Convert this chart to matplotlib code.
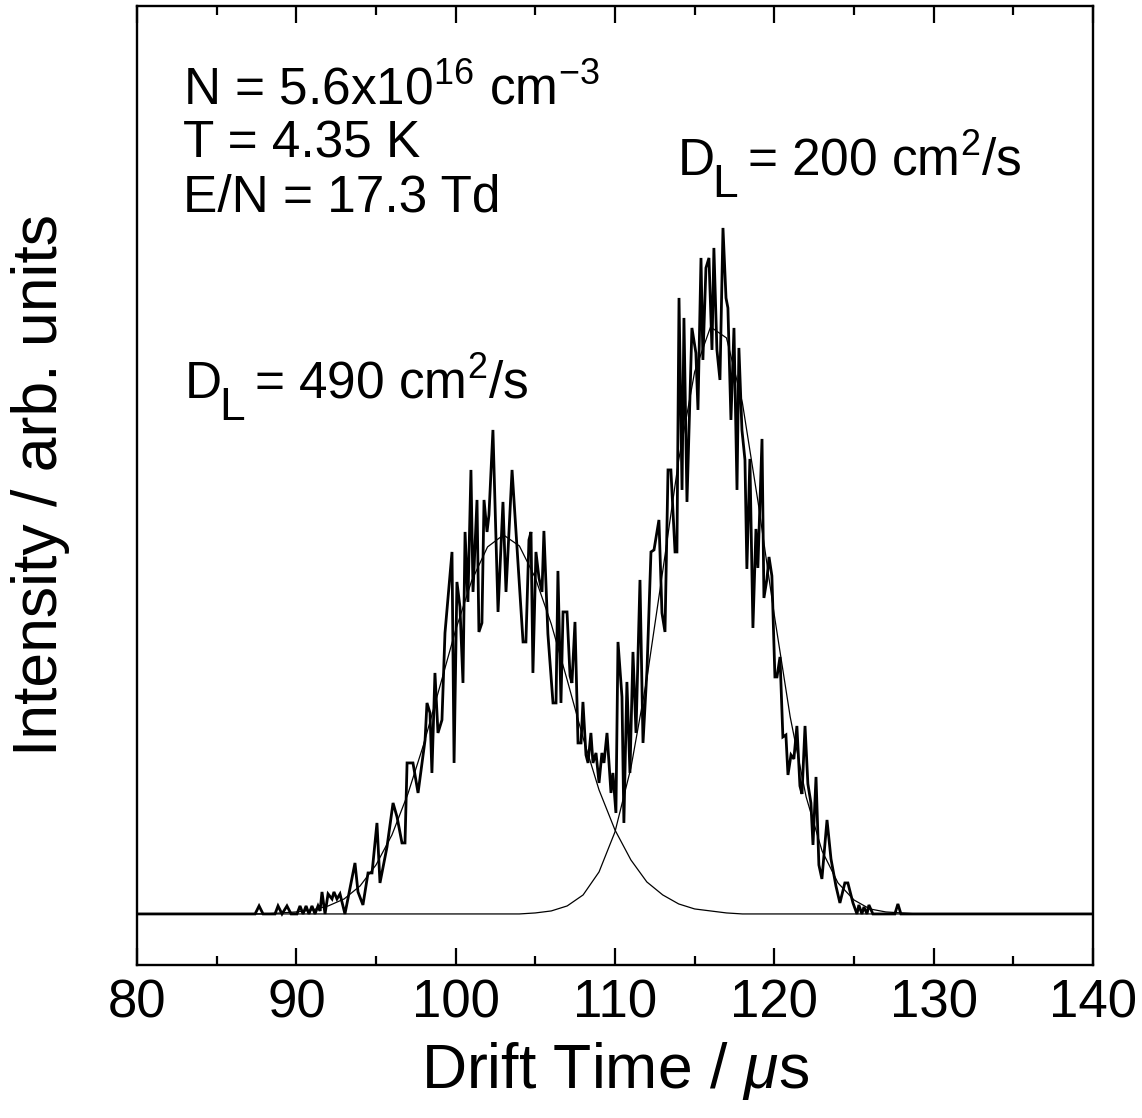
import matplotlib
matplotlib.use("Agg")
import matplotlib.pyplot as plt
from matplotlib.ticker import MultipleLocator

plt.rcParams["font.family"] = ["Liberation Sans", "DejaVu Sans"]
plt.rcParams["mathtext.fontset"] = "custom"
plt.rcParams["mathtext.rm"] = "Liberation Sans"
plt.rcParams["mathtext.it"] = "Liberation Sans:italic"
plt.rcParams["mathtext.bf"] = "Liberation Sans:bold"

# measured arrival-time spectrum (drift time in us, intensity in arb. units)
drift_time = [
    80.00, 87.41, 87.66, 87.91, 88.66, 88.85, 89.10, 89.41, 89.67, 90.04,
    90.23, 90.42, 90.61, 90.79, 90.98, 91.17, 91.36, 91.49, 91.61, 91.80,
    91.99, 92.24, 92.36, 92.55, 92.74, 93.05, 93.68, 93.87, 94.18, 94.50,
    94.75, 95.06, 95.25, 95.69, 96.07, 96.32, 96.63, 96.82, 96.95, 97.32,
    97.64, 98.08, 98.20, 98.39, 98.51, 98.70, 98.89, 99.14, 99.33, 99.77,
    99.90, 100.08, 100.27, 100.46, 100.59, 100.77, 100.96, 101.09, 101.34, 101.46,
    101.65, 101.78, 101.97, 102.09, 102.34, 102.66, 102.97, 103.16, 103.54, 103.85,
    104.23, 104.41, 104.60, 104.73, 104.85, 105.04, 105.23, 105.42, 105.54, 105.79,
    106.11, 106.30, 106.42, 106.61, 106.74, 106.99, 107.18, 107.30, 107.49, 107.68,
    107.87, 107.99, 108.18, 108.31, 108.49, 108.62, 108.81, 109.00, 109.18, 109.31,
    109.50, 109.75, 109.87, 110.06, 110.19, 110.44, 110.56, 110.75, 110.94, 111.13,
    111.32, 111.57, 111.76, 112.01, 112.26, 112.45, 112.76, 112.95, 113.14, 113.33,
    113.51, 113.77, 113.89, 114.02, 114.21, 114.33, 114.52, 114.83, 115.08, 115.21,
    115.40, 115.52, 115.71, 115.90, 116.09, 116.21, 116.40, 116.59, 116.78, 116.97,
    117.09, 117.28, 117.47, 117.66, 117.78, 117.97, 118.16, 118.28, 118.47, 118.66,
    118.85, 118.97, 119.23, 119.35, 119.54, 119.67, 119.85, 120.04, 120.17, 120.36,
    120.54, 120.73, 120.86, 121.05, 121.23, 121.42, 121.61, 121.74, 121.93, 122.11,
    122.30, 122.43, 122.62, 122.80, 122.99, 123.31, 123.56, 123.87, 124.12, 124.43,
    124.62, 124.94, 125.19, 125.31, 125.50, 125.63, 125.82, 125.94, 126.19, 127.57,
    127.76, 127.95, 140.00,
]
intensity = [
    0, 0, 8, 0, 0, 8, 0, 8, 0, 0,
    8, 0, 8, 0, 8, 0, 8, 3, 22, 0,
    20, 15, 22, 15, 20, 0, 51, 22, 9, 41,
    41, 91, 31, 67, 111, 97, 71, 71, 151, 151,
    121, 174, 211, 201, 141, 241, 181, 194, 281, 362,
    151, 332, 307, 231, 382, 312, 444, 322, 414, 282,
    291, 414, 382, 399, 484, 302, 412, 322, 444, 367,
    272, 272, 374, 382, 241, 362, 336, 322, 383, 280,
    211, 211, 343, 211, 302, 302, 238, 231, 292, 171,
    171, 212, 159, 151, 181, 151, 161, 131, 161, 151,
    181, 121, 141, 101, 272, 217, 91, 232, 141, 262,
    181, 334, 171, 244, 362, 364, 394, 301, 282, 444,
    444, 362, 362, 616, 424, 596, 412, 586, 561, 504,
    656, 554, 646, 656, 564, 666, 564, 534, 686, 616,
    606, 494, 586, 424, 566, 484, 454, 345, 455, 286,
    385, 346, 475, 316, 335, 357, 338, 237, 237, 257,
    177, 179, 139, 159, 155, 188, 128, 120, 188, 130,
    111, 69, 137, 49, 35, 94, 55, 28, 11, 31,
    31, 11, 0, 9, 0, 7, 0, 9, 0, 0,
    10, 0, 0,
]

# gaussian fit curves, sampled every 1 us
fit_time = [80, 85, 87, 88, 89, 90, 91, 92, 93, 94, 95, 96, 97, 98, 99,
            100, 101, 102, 103, 104, 105, 106, 107, 108, 109, 110, 111, 112,
            113, 114, 115, 116, 117, 118, 119, 120, 121, 122, 123, 124, 125,
            126, 127, 128, 129, 130, 135, 140]
fit_490 = [0, 0, 0, 0, 1, 2, 4, 8, 15, 28, 49, 79, 120, 170, 227,
           284, 333, 367, 379, 368, 336, 290, 234, 176, 124, 84, 54, 32,
           19, 10, 5, 3, 1, 0, 0, 0, 0, 0, 0, 0, 0,
           0, 0, 0, 0, 0, 0, 0]
fit_200 = [0, 0, 0, 0, 0, 0, 0, 0, 0, 0, 0, 0, 0, 0, 0,
           0, 0, 0, 0, 0, 1, 3, 8, 19, 42, 82, 146, 235,
           343, 454, 542, 587, 576, 511, 410, 299, 197, 117, 63, 31, 14,
           5, 2, 1, 0, 0, 0, 0]

fig = plt.figure(figsize=(11.42, 11.18), dpi=100)
ax = fig.add_axes([0.120, 0.1369, 0.837, 0.8578])

ax.plot(drift_time, intensity, color="black", lw=2.0, solid_joinstyle="miter")
ax.plot(fit_time, fit_490, color="black", lw=0.9)
ax.plot(fit_time, fit_200, color="black", lw=0.9)

ax.set_xlim(80, 140)
ax.set_ylim(-51, 908)
ax.xaxis.set_major_locator(MultipleLocator(10))
ax.xaxis.set_minor_locator(MultipleLocator(5))
ax.tick_params(axis="x", which="both", direction="in", top=True, width=1.6,
               labelsize=38, pad=10)
ax.tick_params(axis="x", which="major", length=12)
ax.tick_params(axis="x", which="minor", length=6.5)
ax.set_yticks([])
for s in ax.spines.values():
    s.set_linewidth(1.7)

ax.set_xlabel("Drift Time / $\\mu$s", fontsize=45, labelpad=8)
ax.set_ylabel("Intensity / arb. units", fontsize=45, labelpad=48)

fs = 37
ax.text(0.048, 0.8968, "N = 5.6x10$^{16}$ cm$^{-3}$", transform=ax.transAxes,
        fontsize=fs, va="baseline")
ax.text(0.048, 0.8415, "T = 4.35 K", transform=ax.transAxes, fontsize=fs,
        va="baseline")
ax.text(0.048, 0.7852, "E/N = 17.3 Td", transform=ax.transAxes, fontsize=fs,
        va="baseline")


def dl_label(x, y, rest):
    # D with a large dropped subscript L, as in the original figure
    ax.text(x, y, "D", transform=ax.transAxes, fontsize=fs, va="baseline")
    ax.text(x + 0.036, y - 0.023, "L", transform=ax.transAxes,
            fontsize=fs * 0.9, va="baseline")
    ax.text(x + 0.072, y, rest, transform=ax.transAxes, fontsize=fs,
            va="baseline")


dl_label(0.050, 0.5912, "= 490 cm$^2$/s")
dl_label(0.566, 0.8238, "= 200 cm$^2$/s")

fig.savefig("out.png", dpi=100)
